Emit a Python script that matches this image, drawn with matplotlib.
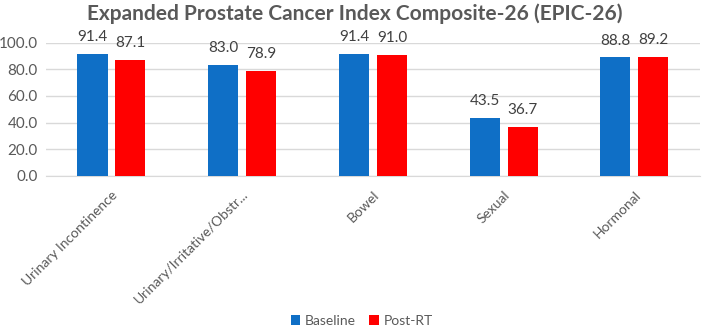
import matplotlib
matplotlib.use("Agg")
import matplotlib.pyplot as plt
import numpy as np

categories = ["Urinary Incontinence", "Urinary/Irritative/Obstr...", "Bowel", "Sexual", "Hormonal"]
baseline = [91.4, 83.0, 91.4, 43.5, 88.8]
post_rt = [87.1, 78.9, 91.0, 36.7, 89.2]
series_names = ["Baseline", "Post-RT"]
yticks = [0, 20, 40, 60, 80, 100]

plt.rcParams['font.family'] = ['Lato', 'DejaVu Sans']
gray = "#595959"

fig = plt.figure(figsize=(7.09, 3.27), dpi=100)
ax = fig.add_axes([0.065, 0.462, 0.922, 0.408])

x = np.arange(len(categories))
w = 0.23
off = 0.145
b1 = ax.bar(x - off, baseline, w, color="#0F6FC6", label=series_names[0], zorder=3)
b2 = ax.bar(x + off, post_rt, w, color="#FF0000", label=series_names[1], zorder=3)

for bars, vals in ((b1, baseline), (b2, post_rt)):
    for r, v in zip(bars, vals):
        ax.annotate(f"{v:.1f}", (r.get_x() + r.get_width() / 2, v), xytext=(0, 7),
                    textcoords="offset points", ha="center", va="bottom",
                    fontsize=11, color="#404040", annotation_clip=False)

ax.set_xlim(-0.5, len(categories) - 0.5)
ax.set_ylim(0, 100)
ax.set_yticks(yticks)
ax.set_yticklabels([f"{t:.1f}" for t in yticks], fontsize=11, color=gray)
ax.set_xticks(x)
ax.set_xticklabels(categories, rotation=45, ha="right", rotation_mode="anchor",
                   fontsize=10, color=gray)
ax.tick_params(axis="both", length=0, pad=6)
ax.tick_params(axis="x", pad=9)
ax.grid(axis="y", color="#D9D9D9", linewidth=1, zorder=0)
for s in ("top", "right", "left"):
    ax.spines[s].set_visible(False)
ax.spines["bottom"].set_color("#D9D9D9")

fig.suptitle("Expanded Prostate Cancer Index Composite-26 (EPIC-26)", x=0.5, y=0.99,
             fontsize=15, fontweight="bold", color=gray)

fig.legend(handles=[b1, b2], labels=series_names, loc="center",
           bbox_to_anchor=(0.51, 0.018), ncol=2, frameon=False, fontsize=10,
           handlelength=0.7, handleheight=0.7, handletextpad=0.3, columnspacing=1.0,
           labelcolor=gray)

fig.savefig("out.png", dpi=100)
